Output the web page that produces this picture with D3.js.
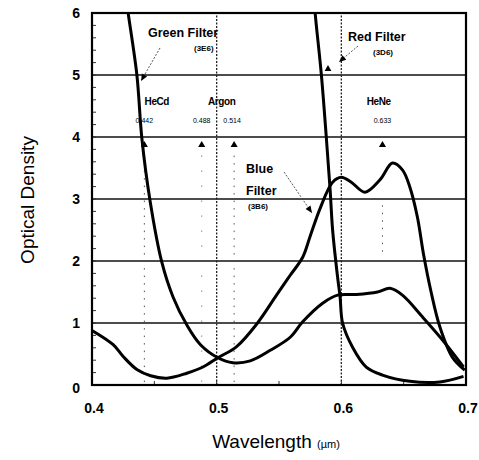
<!DOCTYPE html>
<html>
<head>
<meta charset="utf-8">
<script src="https://cdn.jsdelivr.net/npm/d3@7"></script>
<style>
  body { margin: 0; background: #fff; }
  text { font-family: "Liberation Sans", Arial, sans-serif; fill: #000; }
</style>
</head>
<body>
<div id="chart"></div>
<script>
// wavelength (um), optical density
var blueFilter = [[0.4,0.88],[0.417,0.65],[0.425,0.46],[0.436,0.25],[0.447,0.15],[0.46,0.11],[0.476,0.19],
  [0.489,0.29],[0.501,0.44],[0.516,0.62],[0.532,0.98],[0.548,1.45],[0.559,1.77],[0.569,2.06],[0.575,2.4],
  [0.583,2.85],[0.593,3.27],[0.6,3.35],[0.608,3.27],[0.619,3.11],[0.631,3.31],[0.641,3.58],[0.649,3.47],
  [0.655,3.19],[0.661,2.71],[0.666,2.1],[0.672,1.5],[0.679,0.94],[0.689,0.45],[0.699,0.24]]
var greenFilter = [[0.427,6.3],[0.429,6.0],[0.436,5.0],[0.44,3.98],[0.4465,2.98],[0.456,1.98],[0.465,1.42],
  [0.476,0.97],[0.487,0.65],[0.501,0.44],[0.513,0.36],[0.527,0.39],[0.543,0.56],[0.559,0.77],[0.569,1.02],
  [0.585,1.32],[0.597,1.45],[0.612,1.46],[0.629,1.5],[0.639,1.56],[0.649,1.45],[0.665,1.1],[0.681,0.73],[0.698,0.29]]
var redFilter = [[0.578,6.3],[0.579,6.0],[0.584,5.0],[0.588,3.98],[0.591,3.15],[0.593,2.5],[0.597,1.74],
  [0.599,1.42],[0.601,1.0],[0.609,0.61],[0.62,0.29],[0.633,0.16],[0.655,0.06],[0.679,0.05],[0.698,0.14]]

var laserWl = [0.442, 0.488, 0.514, 0.633]
var laserText = ['0.442', '0.488', '0.514', '0.633']
var laserNames = [['HeCd', 0.452], ['Argon', 0.504], ['HeNe', 0.63]]
var xTicks = [0.4, 0.5, 0.6, 0.7]
var yTicks = [0, 1, 2, 3, 4, 5, 6]

var width = 479, height = 460
var margin = {left: 92, top: 13, right: 13, bottom: 75}

var svg = d3.select('#chart').append('svg')
  .attr('width', width)
  .attr('height', height)

var x = d3.scaleLinear().domain([0.4, 0.7]).range([margin.left, width - margin.right])
var y = d3.scaleLinear().domain([0, 6]).range([height - margin.bottom, margin.top])

svg.append('clipPath').attr('id', 'plotclip')
  .append('rect')
  .attr('x', x(0.4)).attr('y', y(6))
  .attr('width', x(0.7) - x(0.4)).attr('height', y(0) - y(6))

// grid
svg.append('g').selectAll('line')
  .data([1, 2, 3, 4, 5])
  .enter().append('line')
  .attr('x1', x(0.4)).attr('x2', x(0.7))
  .attr('y1', d => y(d)).attr('y2', d => y(d))
  .attr('stroke', '#111').attr('stroke-width', 1.6)
svg.append('g').selectAll('line')
  .data([0.5, 0.6])
  .enter().append('line')
  .attr('x1', d => x(d)).attr('x2', d => x(d))
  .attr('y1', y(0)).attr('y2', y(6))
  .attr('stroke', '#222').attr('stroke-width', 1.3)
  .attr('stroke-dasharray', '2,1.5')

// laser lines (dotted)
svg.append('g').selectAll('line')
  .data(laserWl)
  .enter().append('line')
  .attr('x1', d => x(d)).attr('x2', d => x(d))
  .attr('y1', d => d === 0.633 ? y(2.9) : y(3.7))
  .attr('y2', d => d === 0.633 ? y(2.1) : y(0))
  .attr('stroke', '#555').attr('stroke-width', 1)
  .attr('stroke-dasharray', d => d === 0.488 ? '1,14' : '1.5,6')

// minor ticks
svg.append('g').selectAll('line')
  .data(d3.range(0, 6.01, 0.2))
  .enter().append('line')
  .attr('x1', x(0.4)).attr('x2', x(0.4) + 4)
  .attr('y1', d => y(d)).attr('y2', d => y(d))
  .attr('stroke', '#333').attr('stroke-width', 1)
svg.append('g').selectAll('line')
  .data(d3.range(0.4, 0.701, 0.05))
  .enter().append('line')
  .attr('x1', d => x(d)).attr('x2', d => x(d))
  .attr('y1', y(0)).attr('y2', y(0) - 4)
  .attr('stroke', '#333').attr('stroke-width', 1)

// frame
svg.append('rect')
  .attr('x', x(0.4)).attr('y', y(6))
  .attr('width', x(0.7) - x(0.4)).attr('height', y(0) - y(6))
  .attr('fill', 'none').attr('stroke', '#000').attr('stroke-width', 2.2)

// curves
var line = d3.line()
  .x(d => x(d[0]))
  .y(d => y(d[1]))
  .curve(d3.curveCatmullRom.alpha(0.5))
var curves = svg.append('g').attr('clip-path', 'url(#plotclip)')
;[blueFilter, greenFilter, redFilter].forEach(function (s) {
  curves.append('path')
    .attr('d', line(s))
    .attr('fill', 'none')
    .attr('stroke', '#000')
    .attr('stroke-width', 3)
    .attr('stroke-linejoin', 'round')
})

// laser markers and labels
svg.append('g').selectAll('path')
  .data(laserWl)
  .enter().append('path')
  .attr('d', d3.symbol().type(d3.symbolTriangle).size(22))
  .attr('transform', d => `translate(${x(d)},${y(3.87)})`)
  .attr('fill', '#000')
svg.append('g').selectAll('text')
  .data(laserWl)
  .enter().append('text')
  .attr('x', (d, i) => x(d) + (i === 2 ? -2 : 0))
  .attr('y', y(4.22))
  .attr('text-anchor', 'middle')
  .attr('font-size', 7)
  .attr('fill', '#444')
  .text((d, i) => laserText[i])
svg.append('g').selectAll('text')
  .data(laserNames)
  .enter().append('text')
  .attr('x', d => x(d[1]))
  .attr('y', y(4.52))
  .attr('text-anchor', 'middle')
  .attr('font-size', 10)
  .attr('font-weight', 'bold')
  .attr('letter-spacing', -0.4)
  .text(d => d[0])

// filter labels
function label(tx, ty, big, small, dy) {
  var t = svg.append('text').attr('x', tx).attr('y', ty)
    .attr('font-size', 12.5).attr('font-weight', 'bold')
  big.forEach(function (s, i) {
    t.append('tspan').attr('x', tx).attr('dy', i === 0 ? 0 : 22).text(s)
  })
  svg.append('text').attr('x', tx + dy).attr('y', ty + (big.length - 1) * 22 + 14)
    .attr('font-size', 8).attr('font-weight', 'bold').text(small)
}
label(148, 37, ['Green Filter'], '(3E6)', 46)
label(348, 41, ['Red Filter'], '(3D6)', 25)
label(246, 173, ['Blue', 'Filter'], '(3B6)', 2)

function arrow(x1, y1, x2, y2) {
  var a = Math.atan2(y2 - y1, x2 - x1)
  svg.append('line')
    .attr('x1', x1).attr('y1', y1).attr('x2', x2).attr('y2', y2)
    .attr('stroke', '#444').attr('stroke-width', 0.9).attr('stroke-dasharray', '2,1.5')
  var p = [[x2, y2],
    [x2 - 7 * Math.cos(a) + 3 * Math.sin(a), y2 - 7 * Math.sin(a) - 3 * Math.cos(a)],
    [x2 - 7 * Math.cos(a) - 3 * Math.sin(a), y2 - 7 * Math.sin(a) + 3 * Math.cos(a)]]
  svg.append('path').attr('d', d3.line()(p) + 'Z').attr('fill', '#000')
}
arrow(160, 48, 141, 81)
arrow(358, 46, 339, 62)
arrow(284, 172, 312, 213)
svg.append('path')
  .attr('d', d3.symbol().type(d3.symbolTriangle).size(20))
  .attr('transform', 'translate(328,69)')
  .attr('fill', '#000')

// tick labels
svg.append('g').selectAll('text')
  .data(yTicks)
  .enter().append('text')
  .attr('x', 80)
  .attr('y', d => y(d) + 5 + (d === 0 ? 3 : 0))
  .attr('text-anchor', 'end')
  .attr('font-size', 14).attr('font-weight', 'bold')
  .text(d => d)
svg.append('g').selectAll('text')
  .data(xTicks)
  .enter().append('text')
  .attr('x', d => x(d) + 2)
  .attr('y', 413)
  .attr('text-anchor', 'middle')
  .attr('font-size', 14).attr('font-weight', 'bold')
  .text(d => d3.format('.1f')(d))

// axis titles
svg.append('text')
  .attr('transform', 'translate(34,200) rotate(-90)')
  .attr('text-anchor', 'middle')
  .attr('font-size', 19)
  .text('Optical Density')
var xt = svg.append('text')
  .attr('x', 276).attr('y', 448)
  .attr('text-anchor', 'middle')
  .attr('font-size', 19)
xt.append('tspan').text('Wavelength ')
xt.append('tspan').attr('font-size', 11).text('(µm)')
</script>
</body>
</html>
